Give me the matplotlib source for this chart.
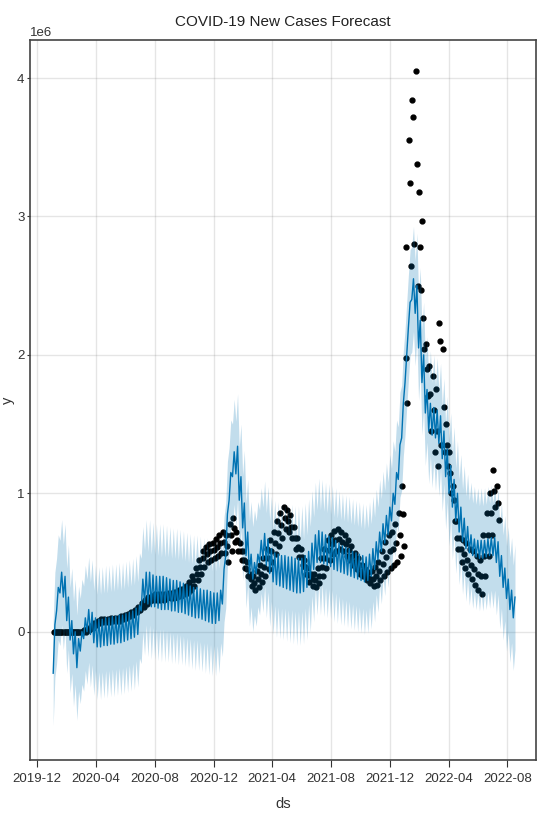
import numpy as np
import pandas as pd
import matplotlib
matplotlib.use("Agg")
import matplotlib.pyplot as plt
import matplotlib.dates as mdates

plt.rcParams['font.family'] = ['Liberation Sans', 'DejaVu Sans']

# ---------------- data (values in millions of cases, weekly samples) ----------------
first_week = "2020-01-04"

# observed daily new cases: high, middle and low readings per week
obs_hi = [
    0.00, 0.00, 0.00, 0.00, 0.00, 0.00, 0.00, 0.00, 0.00,
    0.01, 0.02, 0.04, 0.06, 0.08, 0.09, 0.09, 0.09,
    0.10, 0.10, 0.10, 0.11, 0.12, 0.13, 0.14, 0.16, 0.18,
    0.21, 0.23, 0.25, 0.26, 0.27, 0.27, 0.27, 0.27, 0.28,
    0.28, 0.29, 0.30, 0.31, 0.33, 0.36, 0.40, 0.46, 0.52,
    0.58, 0.61, 0.63, 0.64, 0.67, 0.70, 0.72, 0.70, 0.78,
    0.82, 0.72, 0.64, 0.58, 0.50, 0.42, 0.40, 0.44, 0.48,
    0.53, 0.60, 0.66, 0.72, 0.80, 0.86, 0.90, 0.88, 0.84,
    0.76, 0.68, 0.60, 0.52, 0.46, 0.42, 0.42, 0.46, 0.53,
    0.60, 0.66, 0.70, 0.73, 0.74, 0.72, 0.70, 0.66, 0.62,
    0.57, 0.53, 0.48, 0.45, 0.43, 0.44, 0.47, 0.50, 0.58,
    0.65, 0.70, 0.72, 0.78, 0.86, 1.05, 2.78, 3.55, 3.84,
    4.05, 3.18, 2.97, 2.08, 1.92, 1.85, 1.75, 2.23, 2.04,
    1.50, 1.30, 1.05, 0.80, 0.68, 0.66, 0.64, 0.60, 0.58,
    0.55, 0.52, 0.70, 0.86, 1.00, 1.17, 1.05,
]
obs_mid = [
    0.00, 0.00, 0.00, 0.00, 0.00, 0.00, 0.00, 0.00, 0.00,
    0.01, 0.02, 0.03, 0.05, 0.07, 0.08, 0.08, 0.08,
    0.09, 0.09, 0.09, 0.10, 0.11, 0.12, 0.13, 0.15, 0.17,
    0.20, 0.22, 0.24, 0.25, 0.25, 0.25, 0.25, 0.26, 0.26,
    0.26, 0.27, 0.28, 0.29, 0.31, 0.33, 0.37, 0.42, 0.47,
    0.53, 0.56, 0.58, 0.59, 0.61, 0.64, 0.65, 0.62, 0.70,
    0.75, 0.66, 0.58, 0.52, 0.45, 0.38, 0.35, 0.38, 0.42,
    0.47, 0.53, 0.58, 0.64, 0.71, 0.77, 0.82, 0.80, 0.76,
    0.68, 0.61, 0.54, 0.47, 0.41, 0.38, 0.37, 0.40, 0.47,
    0.53, 0.59, 0.63, 0.66, 0.67, 0.65, 0.63, 0.59, 0.55,
    0.51, 0.48, 0.44, 0.41, 0.39, 0.38, 0.40, 0.44, 0.49,
    0.54, 0.58, 0.60, 0.64, 0.70, 0.85, 1.98, 3.24, 3.72,
    3.38, 2.78, 2.27, 1.90, 1.72, 1.60, 1.45, 2.10, 1.62,
    1.35, 1.15, 0.95, 0.68, 0.60, 0.56, 0.52, 0.48, 0.45,
    0.42, 0.40, 0.55, 0.70, 0.86, 1.02, 0.93,
]
obs_lo = [
    0.00, 0.00, 0.00, 0.00, 0.00, 0.00, 0.00, 0.00, 0.00,
    0.00, 0.01, 0.03, 0.05, 0.06, 0.07, 0.07, 0.07,
    0.08, 0.08, 0.08, 0.09, 0.10, 0.11, 0.12, 0.14, 0.16,
    0.18, 0.20, 0.22, 0.23, 0.23, 0.23, 0.23, 0.24, 0.24,
    0.24, 0.25, 0.26, 0.27, 0.28, 0.30, 0.33, 0.37, 0.42,
    0.47, 0.50, 0.52, 0.53, 0.55, 0.57, 0.57, 0.50, 0.58,
    0.65, 0.58, 0.52, 0.46, 0.40, 0.33, 0.30, 0.32, 0.36,
    0.40, 0.45, 0.50, 0.56, 0.62, 0.68, 0.74, 0.72, 0.68,
    0.60, 0.54, 0.48, 0.42, 0.36, 0.33, 0.32, 0.35, 0.40,
    0.46, 0.52, 0.56, 0.58, 0.60, 0.58, 0.55, 0.52, 0.48,
    0.45, 0.42, 0.40, 0.37, 0.35, 0.33, 0.34, 0.37, 0.40,
    0.43, 0.46, 0.48, 0.50, 0.55, 0.62, 1.65, 2.64, 2.80,
    2.50, 2.47, 2.04, 1.70, 1.45, 1.30, 1.20, 1.35, 1.30,
    1.20, 1.00, 0.80, 0.60, 0.50, 0.46, 0.42, 0.38, 0.34,
    0.30, 0.27, 0.40, 0.55, 0.70, 0.90, 0.81,
]

# forecast yhat: weekly trough and peak of the weekly cycle
yhat_lo = [
    -0.30, 0.15, 0.28, 0.25, 0.08, -0.06, -0.16, -0.26, -0.14,
    -0.05, 0.00, -0.02, -0.08, -0.11, -0.11, -0.10, -0.10,
    -0.09, -0.09, -0.08, -0.08, -0.07, -0.06, -0.05, -0.04, -0.02,
    0.15, 0.21, 0.20, 0.18, 0.18, 0.17, 0.16, 0.16, 0.16,
    0.15, 0.15, 0.14, 0.14, 0.13, 0.12, 0.11, 0.10, 0.10,
    0.09, 0.08, 0.07, 0.06, 0.06, 0.08, 0.20, 0.55, 0.95,
    1.12, 1.14, 0.95, 0.75, 0.55, 0.42, 0.38, 0.42, 0.50,
    0.52, 0.48, 0.42, 0.36, 0.34, 0.33, 0.32, 0.31, 0.30,
    0.29, 0.28, 0.28, 0.29, 0.32, 0.38, 0.45, 0.50, 0.50,
    0.49, 0.48, 0.47, 0.45, 0.44, 0.43, 0.42, 0.41, 0.40,
    0.39, 0.38, 0.37, 0.36, 0.37, 0.40, 0.45, 0.52, 0.58,
    0.64, 0.70, 0.80, 0.92, 1.10, 1.40, 1.80, 2.20, 2.40,
    2.30, 2.05, 1.80, 1.58, 1.45, 1.42, 1.40, 1.36, 1.25,
    1.12, 1.00, 0.90, 0.80, 0.72, 0.65, 0.60, 0.57, 0.55,
    0.54, 0.53, 0.53, 0.54, 0.55, 0.55, 0.50, 0.40, 0.32,
    0.24, 0.16, 0.10,
]
yhat_hi = [
    0.05, 0.32, 0.43, 0.40, 0.25, 0.08, 0.00, -0.05, 0.00,
    0.10, 0.16, 0.14, 0.10, 0.09, 0.09, 0.10, 0.10,
    0.11, 0.11, 0.12, 0.12, 0.13, 0.14, 0.15, 0.17, 0.19,
    0.38, 0.43, 0.43, 0.41, 0.40, 0.40, 0.40, 0.39, 0.38,
    0.37, 0.37, 0.36, 0.35, 0.34, 0.33, 0.32, 0.32, 0.31,
    0.30, 0.30, 0.29, 0.28, 0.28, 0.30, 0.45, 0.85, 1.15,
    1.30, 1.34, 1.12, 0.93, 0.72, 0.56, 0.50, 0.56, 0.66,
    0.71, 0.67, 0.60, 0.57, 0.56, 0.55, 0.55, 0.54, 0.54,
    0.53, 0.53, 0.53, 0.55, 0.58, 0.64, 0.70, 0.73, 0.72,
    0.70, 0.69, 0.68, 0.66, 0.64, 0.62, 0.61, 0.60, 0.58,
    0.57, 0.56, 0.55, 0.54, 0.56, 0.60, 0.65, 0.72, 0.78,
    0.84, 0.90, 1.00, 1.15, 1.35, 1.65, 2.00, 2.38, 2.55,
    2.50, 2.25, 2.00, 1.75, 1.65, 1.62, 1.60, 1.56, 1.45,
    1.32, 1.20, 1.10, 1.00, 0.90, 0.82, 0.76, 0.70, 0.67,
    0.66, 0.66, 0.66, 0.67, 0.68, 0.68, 0.65, 0.55, 0.46,
    0.38, 0.30, 0.25,
]
interval_half = 0.38  # half width of the uncertainty interval

x_ticks = ["2019-12-01", "2020-04-01", "2020-08-01", "2020-12-01", "2021-04-01",
           "2021-08-01", "2021-12-01", "2022-04-01", "2022-08-01"]
title = "COVID-19 New Cases Forecast"

# ---------------- build series ----------------
scale = 1e6
w_obs = pd.date_range(first_week, periods=len(obs_hi), freq="7D")
w_fc = pd.date_range(first_week, periods=len(yhat_lo), freq="7D")

obs_t = (list(w_obs + pd.Timedelta(days=1)) + list(w_obs + pd.Timedelta(days=3))
         + list(w_obs + pd.Timedelta(days=5)))
obs_y = np.array(obs_hi + obs_mid + obs_lo) * scale

fc_t = []
for d in w_fc:
    fc_t.append(d)
    fc_t.append(d + pd.Timedelta(hours=84))
fc_y = np.column_stack((yhat_lo, yhat_hi)).ravel() * scale
fc_lower = fc_y - interval_half * scale
fc_upper = fc_y + interval_half * scale

# ---------------- figure ----------------
fig = plt.figure(figsize=(5.37, 8.18), dpi=100)
ax = fig.add_axes([30 / 537, 58 / 818, 506 / 537, 720 / 818])

ax.plot(obs_t, obs_y, 'o', color='k', ms=3.5, ls='none', zorder=2)
ax.plot(fc_t, fc_y, '-', color='#0072B2', lw=1.0, zorder=3)
ax.fill_between(fc_t, fc_lower, fc_upper, color='#0072B2', alpha=0.24, lw=0, zorder=4)

ax.grid(True, which='major', c='gray', ls='-', lw=1, alpha=0.2)
ax.set_axisbelow(True)

ax.set_xlim(pd.Timestamp("2019-11-17"), pd.Timestamp("2022-09-29"))
ax.set_ylim(-0.927e6, 4.275e6)
ax.set_xticks([pd.Timestamp(t) for t in x_ticks])
ax.xaxis.set_major_formatter(mdates.DateFormatter('%Y-%m'))
ax.set_yticks([0, 1e6, 2e6, 3e6, 4e6])

ax.tick_params(axis='x', labelsize=9.5, colors='#333333', length=4.8, pad=4.5)
ax.tick_params(axis='y', labelsize=9.5, colors='#333333', length=2.2, pad=1.8)
ax.yaxis.get_offset_text().set_fontsize(9.5)
for s in ax.spines.values():
    s.set_color('#444444')
    s.set_linewidth(1.2)

ax.set_title(title, fontsize=11, color='#222222', pad=10)
ax.set_xlabel('ds', fontsize=10.5, color='#333333', labelpad=9)
ax.set_ylabel('y', fontsize=10.5, color='#333333')
ax.yaxis.set_label_coords(-0.030, 0.5)

fig.savefig('out.png', dpi=100)
